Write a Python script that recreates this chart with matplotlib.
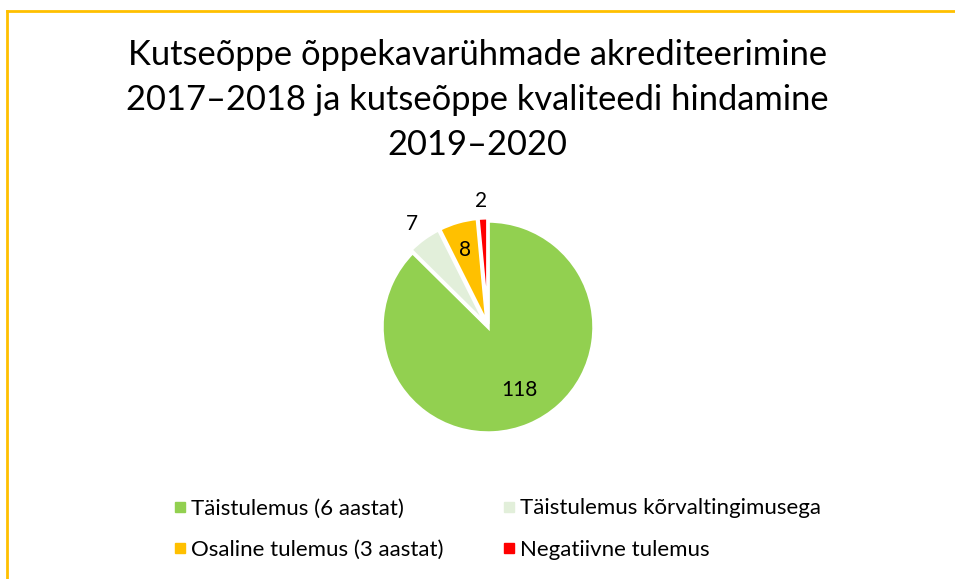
import matplotlib.pyplot as plt
from matplotlib.lines import Line2D

plt.rcParams['font.family'] = ['Lato', 'DejaVu Sans']

# andmed
categories = ['Täistulemus (6 aastat)', 'Täistulemus kõrvaltingimusega',
              'Osaline tulemus (3 aastat)', 'Negatiivne tulemus']
values = [118, 7, 8, 2]
colors = ['#92D050', '#E2EFDA', '#FFC000', '#FF0000']
title = 'Kutseõppe õppekavarühmade akrediteerimine\n2017–2018 ja kutseõppe kvaliteedi hindamine\n2019–2020'

fig = plt.figure(figsize=(9.55, 5.79), dpi=100)

# kollane raam (ülemine ja vasak serv)
fig.add_artist(Line2D([6.5 / 955, 1], [1 - 11 / 579, 1 - 11 / 579], color='#FFC000', lw=2))
fig.add_artist(Line2D([6.5 / 955, 6.5 / 955], [0, 1 - 11 / 579], color='#FFC000', lw=2))

fig.text(0.5, 1 - 100 / 579, title, ha='center', va='center', fontsize=24.8, linespacing=1.5)

# ringdiagramm
ax = fig.add_axes([(488 - 106) / 955, 1 - (327 + 106) / 579, 212 / 955, 212 / 579])
wedges, _ = ax.pie(values, colors=colors, startangle=90, counterclock=False,
                   explode=[0, 0.03, 0.03, 0.03], radius=1,
                   wedgeprops=dict(edgecolor='white', linewidth=2.5))
ax.set_xlim(-1, 1)
ax.set_ylim(-1, 1)
ax.set_aspect('equal')

# väärtuste sildid
label_pos = [(0.30, -0.59), (-0.72, 0.97), (-0.22, 0.73), (-0.07, 1.19)]
for v, (x, y) in zip(values, label_pos):
    ax.text(x, y, str(v), ha='center', va='center', fontsize=15, clip_on=False)

# legend (ridade kaupa: matplotlib täidab veergude kaupa)
order = [0, 2, 1, 3]
handles = [Line2D([], [], marker='s', color=colors[i], linestyle='', markersize=7) for i in order]
labels = [categories[i] for i in order]
fig.legend(handles, labels, loc='center left', bbox_to_anchor=(150 / 955, 1 - 529 / 579),
           ncol=2, frameon=False, fontsize=16, handletextpad=0.05, columnspacing=2.5,
           labelspacing=0.95, handlelength=0.9)

fig.savefig('out.png', dpi=100)
